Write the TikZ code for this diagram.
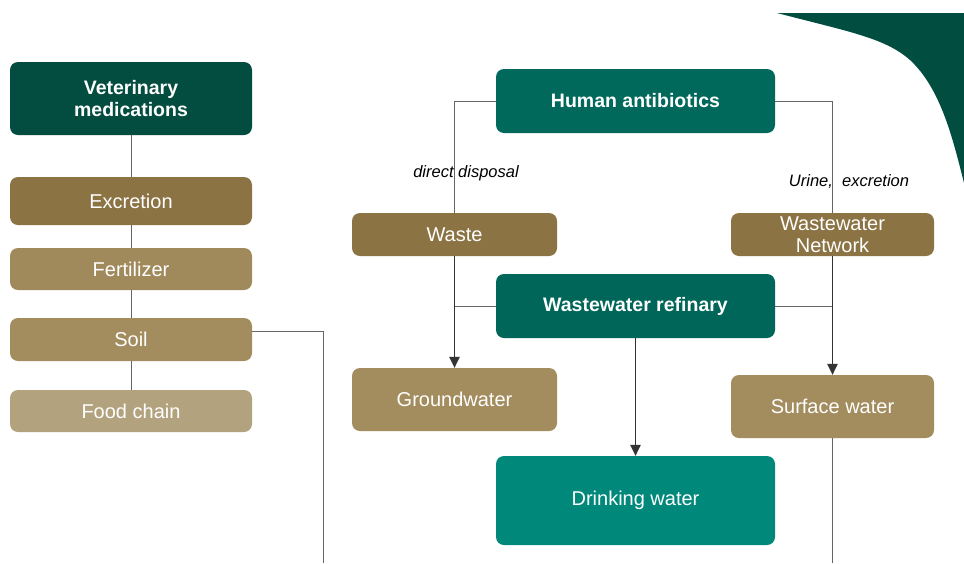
\documentclass[tikz,border=0pt]{standalone}
\usepackage{fontspec}
\setmainfont{Liberation Sans}
\usetikzlibrary{arrows.meta}
\definecolor{vetgreen}{HTML}{024D3F}
\definecolor{tealA}{HTML}{00695C}
\definecolor{tealB}{HTML}{006659}
\definecolor{tealC}{HTML}{00897B}
\definecolor{brownA}{HTML}{8B7343}
\definecolor{brownB}{HTML}{A08A5C}
\definecolor{brownC}{HTML}{A38C5E}
\definecolor{brownD}{HTML}{B3A27E}
\definecolor{decogreen}{HTML}{014D40}
\definecolor{linegray}{HTML}{666666}
\definecolor{arrowgray}{HTML}{333333}
\begin{document}
\begin{tikzpicture}[x=1pt,y=-1pt,
  box/.style={rounded corners=8pt, text=white, align=center, inner sep=0pt,
    font=\fontsize{20}{21.5}\selectfont},
  bbox/.style={box, font=\fontsize{19.5}{22}\selectfont\bfseries},
  conn/.style={draw=linegray, line width=0.9pt},
  arr/.style={draw=arrowgray, line width=1.2pt, -{Triangle[length=11pt,width=10.5pt]}},
  lab/.style={font=\fontsize{16.5}{18}\selectfont\itshape, text=black}]
\useasboundingbox (0,0) rectangle (964,563);
\fill[white] (0,0) rectangle (964,563);
% decorative shape
\fill[decogreen] (777,13) -- (964,13) -- (964,183)
  .. controls (952,135) and (940,88) .. (910,60)
  .. controls (885,38) and (850,32) .. (777,13) -- cycle;
% left column
\node[bbox, fill=vetgreen, minimum width=242pt, minimum height=73pt] (vet) at (131,98.5) {Veterinary\\medications};
\node[box, fill=brownA, minimum width=242pt, minimum height=48pt] (exc) at (131,201) {Excretion};
\node[box, fill=brownB, minimum width=242pt, minimum height=42pt] (fert) at (131,269) {Fertilizer};
\node[box, fill=brownC, minimum width=242pt, minimum height=43pt] (soil) at (131,339.5) {Soil};
\node[box, fill=brownD, minimum width=242pt, minimum height=42pt] (food) at (131,411) {Food chain};
% right part
\node[bbox, fill=tealA, minimum width=279pt, minimum height=64pt] (ha) at (635.5,101) {Human antibiotics};
\node[box, fill=brownA, minimum width=205pt, minimum height=43pt] (waste) at (454.5,234.5) {Waste};
\node[box, fill=brownA, minimum width=203pt, minimum height=43pt] (wn) at (832.5,234.5) {Wastewater\\Network};
\node[bbox, fill=tealB, minimum width=279pt, minimum height=64pt] (ref) at (635.5,306) {Wastewater refinary};
\node[box, fill=brownC, minimum width=205pt, minimum height=63pt] (gw) at (454.5,399.5) {Groundwater};
\node[box, fill=brownC, minimum width=203pt, minimum height=63pt] (sw) at (832.5,406.5) {Surface water};
\node[box, fill=tealC, minimum width=279pt, minimum height=89pt] (dw) at (635.5,500.5) {Drinking water};
\coordinate (soilend) at (323,563);
\coordinate (swend) at (832.5,563);
% left connectors
\draw[conn] (vet) -- (exc);
\draw[conn] (exc) -- (fert);
\draw[conn] (fert) -- (soil);
\draw[conn] (soil) -- (food);
\draw[conn] ([yshift=8.5pt]soil.east) -| (soilend);
% right connectors
\draw[conn] (ha.west) -| (waste.north);
\draw[conn] (ha.east) -| (wn.north);
\draw[conn] (ref.west) -- (ref.west -| waste.south);
\draw[conn] (ref.east) -- (ref.east -| wn.south);
\draw[arr] (waste.south) -- (gw.north);
\draw[arr] (wn.south) -- (sw.north);
\draw[arr] (ref.south) -- (dw.north);
\draw[conn] (sw.south) -- (swend);
% labels
\node[lab] (dd) at (466,173) {direct disposal};
\node[lab] (ue) at (849,182) {Urine,\ \ excretion};
\end{tikzpicture}
\end{document}
